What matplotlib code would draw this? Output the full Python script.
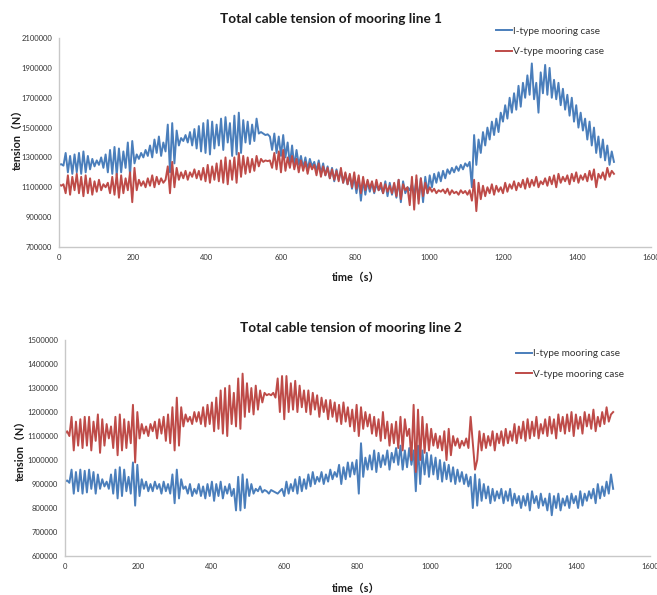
import numpy as np
import matplotlib
matplotlib.use("Agg")
import matplotlib.pyplot as plt

# time axis: one sample every 6 s, 0..1500 s
time_s = np.arange(0, 1501, 6)

# tension values, in kN (x1000 -> N)
line1_i_type = [
    1250, 1255, 1245, 1330, 1200, 1310, 1190, 1320, 1200, 1330,
    1190, 1340, 1200, 1310, 1220, 1290, 1240, 1280, 1250, 1300,
    1230, 1320, 1200, 1350, 1190, 1370, 1180, 1360, 1200, 1340,
    1230, 1400, 1180, 1410, 1260, 1320, 1290, 1330, 1300, 1350,
    1310, 1380, 1300, 1420, 1330, 1440, 1310, 1400, 1340, 1520,
    1200, 1530, 1260, 1480, 1380, 1430, 1410, 1450, 1400, 1470,
    1380, 1490, 1360, 1510, 1340, 1530, 1330, 1550, 1320, 1540,
    1360, 1520, 1380, 1560, 1350, 1570, 1400, 1530, 1310, 1580,
    1320, 1600, 1330, 1550, 1400, 1540, 1390, 1520, 1410, 1560,
    1460, 1470, 1460, 1450, 1455, 1440, 1350, 1460, 1330, 1440,
    1310, 1450, 1300, 1400, 1250, 1380, 1240, 1350, 1250, 1310,
    1230, 1300, 1220, 1290, 1240, 1270, 1210, 1280, 1190, 1260,
    1180, 1240, 1160, 1230, 1140, 1220, 1150, 1210, 1130, 1190,
    1120, 1180, 1090, 1170, 1060, 1160, 1010, 1150, 1050, 1140,
    1070, 1130, 1060, 1120, 1080, 1100, 1060, 1140, 1040, 1130,
    1050, 1120, 1030, 1150, 1000, 1140, 1060, 1100, 1080, 1120,
    1050, 1150, 1020, 1160, 1000, 1170, 1060, 1180, 1100, 1190,
    1130, 1200, 1140, 1210, 1160, 1220, 1190, 1230, 1200, 1240,
    1210, 1250, 1220, 1260, 1240, 1270, 1100, 1450, 1250, 1420,
    1330, 1470, 1380, 1500, 1420, 1540, 1450, 1560, 1470, 1600,
    1540, 1650, 1560, 1700, 1600, 1730, 1620, 1780, 1640, 1800,
    1700, 1850, 1720, 1930, 1690, 1800, 1600, 1870, 1730, 1920,
    1720, 1900, 1700, 1820, 1690, 1800, 1650, 1760, 1620, 1720,
    1580, 1700, 1540, 1650, 1500, 1600, 1480, 1560, 1420, 1540,
    1380, 1500, 1330, 1440, 1300, 1420, 1280, 1380, 1250, 1340,
    1270,
]
line1_v_type = [
    1120, 1110, 1120, 1060, 1180, 1050, 1170, 1080, 1190, 1060,
    1170, 1040, 1180, 1060, 1160, 1050, 1140, 1070, 1150, 1080,
    1120, 1100, 1130, 1060, 1170, 1050, 1190, 1030, 1180, 1060,
    1160, 1080, 1200, 1000, 1230, 1080, 1150, 1110, 1140, 1100,
    1160, 1110, 1180, 1100, 1170, 1120, 1160, 1130, 1150, 1240,
    1060, 1270, 1100, 1230, 1150, 1200, 1160, 1210, 1150, 1200,
    1170, 1220, 1160, 1210, 1150, 1230, 1140, 1250, 1130, 1240,
    1150, 1260, 1140, 1280, 1130, 1300, 1120, 1280, 1150, 1300,
    1130, 1330, 1170, 1310, 1190, 1300, 1200, 1290, 1210, 1310,
    1240, 1290, 1270, 1280, 1275, 1280, 1230, 1330, 1220, 1340,
    1200, 1350, 1210, 1300, 1230, 1310, 1220, 1290, 1200, 1280,
    1210, 1270, 1190, 1260, 1220, 1250, 1180, 1260, 1170, 1240,
    1180, 1230, 1160, 1220, 1150, 1210, 1140, 1230, 1130, 1200,
    1120, 1190, 1100, 1200, 1090, 1180, 1060, 1170, 1080, 1150,
    1090, 1140, 1070, 1150, 1080, 1130, 1060, 1120, 1070, 1110,
    1060, 1130, 1040, 1150, 1020, 1120, 1080, 1100, 980, 1170,
    950, 1180, 990, 1160, 1040, 1130, 1060, 1100, 1070, 1090,
    1060, 1080, 1070, 1085, 1060, 1090, 1050, 1080, 1060, 1070,
    1050, 1080, 1060, 1075, 1050, 1080, 1010, 1150, 940, 1130,
    1020, 1110, 1040, 1100, 1060, 1120, 1050, 1110, 1070, 1100,
    1060, 1130, 1070, 1120, 1090, 1140, 1080, 1130, 1100, 1150,
    1090, 1160, 1100, 1150, 1110, 1170, 1100, 1140, 1120, 1160,
    1110, 1170, 1120, 1180, 1100, 1190, 1130, 1170, 1140, 1180,
    1120, 1190, 1140, 1200, 1130, 1180, 1150, 1190, 1140, 1210,
    1150, 1220, 1100, 1190, 1160, 1200, 1150, 1230, 1170, 1210,
    1190,
]
line2_i_type = [
    910, 915, 905, 960, 860, 950, 870, 960, 860, 955,
    865, 960, 880, 950, 860, 940, 880, 920, 890, 910,
    880, 940, 860, 960, 840, 970, 850, 960, 870, 930,
    860, 990, 810, 980, 850, 920, 880, 910, 870, 900,
    870, 910, 880, 900, 860, 910, 870, 900, 860, 940,
    820, 960, 840, 920, 880, 890, 860, 900, 850, 880,
    860, 900, 850, 890, 840, 900, 850, 910, 830, 900,
    850, 910, 840, 890, 860, 900, 850, 880, 790, 930,
    790, 940, 800, 920, 850, 900, 860, 880, 870, 890,
    865, 875, 870, 860, 875, 870, 865, 860, 870, 880,
    850, 910, 860, 900, 870, 920, 860, 930, 870, 920,
    880, 940, 890, 950, 900, 930, 910, 950, 900, 940,
    910, 960, 920, 950, 930, 980, 900, 970, 920, 990,
    930, 990, 940, 1000, 860, 1070, 930, 1010, 960, 1020,
    960, 1040, 950, 1030, 970, 1020, 980, 1040, 960, 1030,
    990, 1050, 980, 1060, 960, 1040, 970, 1050, 980, 1040,
    870, 1060, 900, 1040, 940, 1030, 930, 1020, 940, 1010,
    920, 1000, 910, 990, 920, 980, 910, 970, 900, 960,
    910, 950, 900, 940, 890, 930, 800, 940, 810, 920,
    830, 900, 840, 890, 820, 880, 830, 870, 840, 880,
    820, 870, 830, 880, 810, 860, 820, 850, 800, 850,
    810, 860, 790, 870, 820, 850, 800, 860, 810, 840,
    790, 860, 770, 850, 800, 860, 790, 840, 810, 850,
    800, 860, 820, 850, 800, 870, 810, 860, 830, 870,
    840, 880, 820, 900, 840, 890, 850, 910, 860, 940,
    880,
]
line2_v_type = [
    1110, 1120, 1100, 1180, 1040, 1160, 1060, 1170, 1050, 1180,
    1060, 1180, 1040, 1160, 1080, 1190, 1030, 1170, 1060, 1150,
    1090, 1140, 1050, 1180, 1020, 1190, 1040, 1170, 1050, 1160,
    1070, 1230, 990, 1200, 1090, 1150, 1110, 1140, 1100, 1150,
    1120, 1160, 1090, 1170, 1110, 1180, 1080, 1190, 1070, 1220,
    1040, 1260, 1060, 1220, 1140, 1190, 1160, 1180, 1150, 1200,
    1160, 1200, 1150, 1220, 1140, 1230, 1150, 1240, 1120, 1260,
    1130, 1290, 1110, 1300, 1100, 1310, 1150, 1280, 1140, 1340,
    1130, 1360, 1180, 1320, 1200, 1300, 1190, 1310, 1210, 1290,
    1240, 1280, 1270, 1275, 1270, 1280, 1260, 1340, 1200, 1350,
    1170, 1350, 1200, 1320, 1210, 1330, 1200, 1310, 1220, 1290,
    1200, 1290, 1190, 1280, 1210, 1270, 1180, 1260, 1200, 1250,
    1170, 1250, 1180, 1240, 1160, 1230, 1150, 1240, 1160, 1220,
    1140, 1210, 1120, 1230, 1100, 1220, 1130, 1200, 1140, 1190,
    1110, 1180, 1100, 1170, 1080, 1200, 1090, 1160, 1060, 1150,
    1070, 1160, 1050, 1180, 1040, 1170, 1100, 1130, 1000, 1230,
    950, 1210, 1000, 1180, 1030, 1150, 1040, 1130, 1060, 1110,
    1050, 1100, 1040, 1120, 1000, 1130, 1020, 1100, 1060, 1090,
    1050, 1080, 1060, 1090, 1050, 1180, 1070, 960, 1000, 1120,
    1040, 1110, 1050, 1100, 1060, 1120, 1040, 1110, 1070, 1120,
    1060, 1130, 1070, 1120, 1080, 1150, 1070, 1140, 1090, 1160,
    1080, 1170, 1090, 1160, 1100, 1180, 1090, 1150, 1110, 1170,
    1100, 1180, 1110, 1170, 1090, 1190, 1120, 1180, 1110, 1190,
    1120, 1200, 1100, 1190, 1130, 1180, 1110, 1200, 1140, 1190,
    1130, 1210, 1120, 1180, 1140, 1200, 1150, 1220, 1160, 1190,
    1200,
]

titles = ["Total cable tension of mooring line 1", "Total cable tension of mooring line 2"]
legend_labels = ["I-type mooring case", "V-type mooring case"]
x_ticks = [0, 200, 400, 600, 800, 1000, 1200, 1400, 1600]
y_ticks_1 = np.arange(700000, 2100001, 200000)
y_ticks_2 = np.arange(600000, 1500001, 100000)

blue = "#4a7ebb"
red = "#be4b48"
fonts = ["Lato", "Noto Sans CJK SC", "DejaVu Sans"]
plt.rcParams["font.family"] = fonts

fig = plt.figure(figsize=(6.57, 5.95), dpi=100)
ax1 = fig.add_axes([0.0898, 0.585, 0.901, 0.351])
ax2 = fig.add_axes([0.0989, 0.0655, 0.890, 0.363])

setups = [
    (ax1, line1_i_type, line1_v_type, y_ticks_1, 0.755, 0.955, (331 / 657, 1 - 19 / 595),
     (17 / 657, 1 - 137 / 595), (356 / 657, 1 - 277 / 595)),
    (ax2, line2_i_type, line2_v_type, y_ticks_2, 0.785, 0.413, (351 / 657, 1 - 328 / 595),
     (20 / 657, 1 - 448 / 595), (356 / 657, 1 - 588 / 595)),
]

for i, (ax, s_i, s_v, yt, lx, ly, tpos, ylpos, xlpos) in enumerate(setups):
    l1, = ax.plot(time_s, np.array(s_i) * 1000, color=blue, lw=1.4)
    l2, = ax.plot(time_s, np.array(s_v) * 1000, color=red, lw=1.4)
    ax.set_xlim(0, 1600)
    ax.set_ylim(yt[0], yt[-1])
    ax.set_xticks(x_ticks)
    ax.set_yticks(yt)
    ax.set_yticklabels([str(int(v)) for v in yt])
    ax.tick_params(length=0, labelsize=5.5, labelcolor="#333333", pad=5)
    for side in ["top", "right"]:
        ax.spines[side].set_visible(False)
    for side in ["left", "bottom"]:
        ax.spines[side].set_color("#c8c8c8")
        ax.spines[side].set_linewidth(1.0)
    fig.legend([l1, l2], legend_labels, loc="upper left", bbox_to_anchor=(lx, ly),
               bbox_transform=fig.transFigure, frameon=False, fontsize=7.2,
               handlelength=1.6, handletextpad=0.1, labelspacing=1.15,
               borderpad=0, borderaxespad=0, labelcolor="#333333")
    fig.text(tpos[0], tpos[1], titles[i], ha="center", va="center",
             fontsize=9.8, fontweight="bold", color="#1a1a1a")
    fig.text(ylpos[0], ylpos[1], "tension（N）", rotation=90, ha="center", va="center",
             fontsize=7.8, fontweight="bold", color="#1a1a1a")
    fig.text(xlpos[0], xlpos[1], "time（s）", ha="center", va="center",
             fontsize=7.8, fontweight="bold", color="#1a1a1a")

fig.savefig("out.png", dpi=100)
